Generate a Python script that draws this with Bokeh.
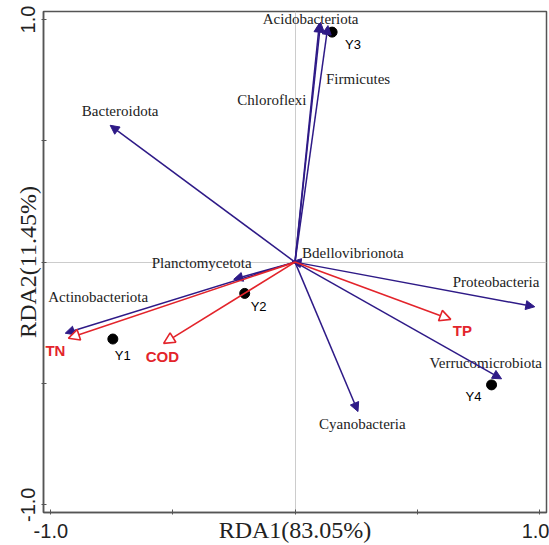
from bokeh.plotting import figure
from bokeh.models import (ColumnDataSource, Range1d, FixedTicker, NumeralTickFormatter,
                          Arrow, NormalHead)
from bokeh.core.properties import value
from bokeh.embed import file_html
from bokeh.resources import INLINE

# ---------------- data ----------------
species = ["Acidobacteriota", "Chloroflexi", "Firmicutes", "Bacteroidota", "Planctomycetota",
           "Actinobacteriota", "Bdellovibrionota", "Proteobacteria", "Verrucomicrobiota", "Cyanobacteria"]
species_rda1 = [0.105, 0.100, 0.135, -0.757, -0.251, -0.941, -0.012, 0.982, 0.846, 0.258]
species_rda2 = [0.988, 0.985, 0.975, 0.564, -0.071, -0.293, 0.002, -0.184, -0.481, -0.616]

env = ["TN", "COD", "TP"]
env_rda1 = [-0.928, -0.538, 0.638]
env_rda2 = [-0.314, -0.335, -0.236]

samples = ["Y1", "Y2", "Y3", "Y4"]
sample_rda1 = [-0.746, -0.206, 0.152, 0.805]
sample_rda2 = [-0.317, -0.129, 0.948, -0.506]

axis_ticks = [-1.0, 1.0]
axis_minor_ticks = [-0.5, 0.0, 0.5]
x_title = "RDA1(83.05%)"
y_title = "RDA2(11.45%)"

# ---------------- label layout (pixel offsets, screen y down) ----------------
species_dx = [-10, -13, -2, 10, -82, -17, 10, -82, -72, -39]
species_dy = [-3, 77, 53, -14, -16, -36, -9, -25, -16, 12]
species_align = ["center", "right", "left", "center", "left", "left", "left", "left", "left", "left"]
env_dx = [-23, -18, 2]
env_dy = [12, 13, 11]
sample_dx = [2, 6, 13, -26]
sample_dy = [16, 13, 12, 12]

SPC = "#2e1a87"
RED = "#e3242b"
FRAME = "#555555"

p = figure(width=549, height=545,
           x_range=Range1d(-1.03, 1.03), y_range=Range1d(-1.032, 1.033),
           output_backend="svg", toolbar_location=None,
           min_border_left=43, min_border_right=3, min_border_top=11, min_border_bottom=32)
p.background_fill_color = "white"
p.border_fill_color = "white"
p.outline_line_color = FRAME
p.outline_line_width = 1.5

for ax in (p.xaxis[0], p.yaxis[0]):
    ax.ticker = FixedTicker(ticks=axis_ticks, minor_ticks=axis_minor_ticks)
    ax.formatter = NumeralTickFormatter(format="0.0")
    ax.axis_line_color = FRAME
    ax.axis_line_width = 1.5
    ax.major_tick_line_color = FRAME
    ax.minor_tick_line_color = FRAME
    ax.major_tick_in = 3
    ax.major_tick_out = 2
    ax.minor_tick_in = 3
    ax.minor_tick_out = 2
    ax.major_label_text_font = "Liberation Sans"
    ax.major_label_text_font_size = "20px"
    ax.major_label_text_color = "#222222"
    ax.axis_label_text_font = "Liberation Serif"
    ax.axis_label_text_font_size = "24px"
    ax.axis_label_text_font_style = "normal"
    ax.axis_label_text_color = "#222222"

p.xaxis.axis_label = x_title
p.yaxis.axis_label = y_title
p.xaxis.major_label_standoff = 9
p.xaxis.axis_label_standoff = -24
p.yaxis.major_label_standoff = 6
p.yaxis.axis_label_standoff = -22
p.yaxis.major_label_orientation = "parallel"

p.xgrid.ticker = FixedTicker(ticks=[0.0])
p.ygrid.ticker = FixedTicker(ticks=[0.0])
p.xgrid.grid_line_color = "#cccccc"
p.ygrid.grid_line_color = "#cccccc"
p.xgrid.grid_line_width = 1
p.ygrid.grid_line_width = 1

# species arrows
sp_src = ColumnDataSource(dict(x0=[0.0] * len(species), y0=[0.0] * len(species),
                               x1=species_rda1, y1=species_rda2, name=species,
                               dx=species_dx, dy=species_dy, align=species_align))
p.add_layout(Arrow(source=sp_src, x_start="x0", y_start="y0", x_end="x1", y_end="y1",
                   line_color=SPC, line_width=1.5,
                   end=NormalHead(size=9, fill_color=SPC, line_color=SPC, line_width=1)))
p.text(x="x1", y="y1", text="name", source=sp_src, x_offset="dx", y_offset="dy",
       text_align="align", text_baseline="middle", text_font=value("Liberation Serif"),
       text_font_size="15px", text_color="#222222")

# environmental arrows
env_src = ColumnDataSource(dict(x0=[0.0] * len(env), y0=[0.0] * len(env),
                                x1=env_rda1, y1=env_rda2, name=env, dx=env_dx, dy=env_dy))
p.add_layout(Arrow(source=env_src, x_start="x0", y_start="y0", x_end="x1", y_end="y1",
                   line_color=RED, line_width=1.6,
                   end=NormalHead(size=11, fill_color="white", line_color=RED, line_width=1.6)))
p.text(x="x1", y="y1", text="name", source=env_src, x_offset="dx", y_offset="dy",
       text_align="left", text_baseline="middle", text_font=value("Liberation Sans"),
       text_font_style="bold", text_font_size="15px", text_color=RED)

# samples
smp_src = ColumnDataSource(dict(x=sample_rda1, y=sample_rda2, name=samples,
                                dx=sample_dx, dy=sample_dy))
p.scatter(x="x", y="y", source=smp_src, size=10, color="black")
p.text(x="x", y="y", text="name", source=smp_src, x_offset="dx", y_offset="dy",
       text_align="left", text_baseline="middle", text_font=value("Liberation Sans"),
       text_font_size="13px", text_color="black")

open("out.html", "w").write(file_html(p, INLINE))
